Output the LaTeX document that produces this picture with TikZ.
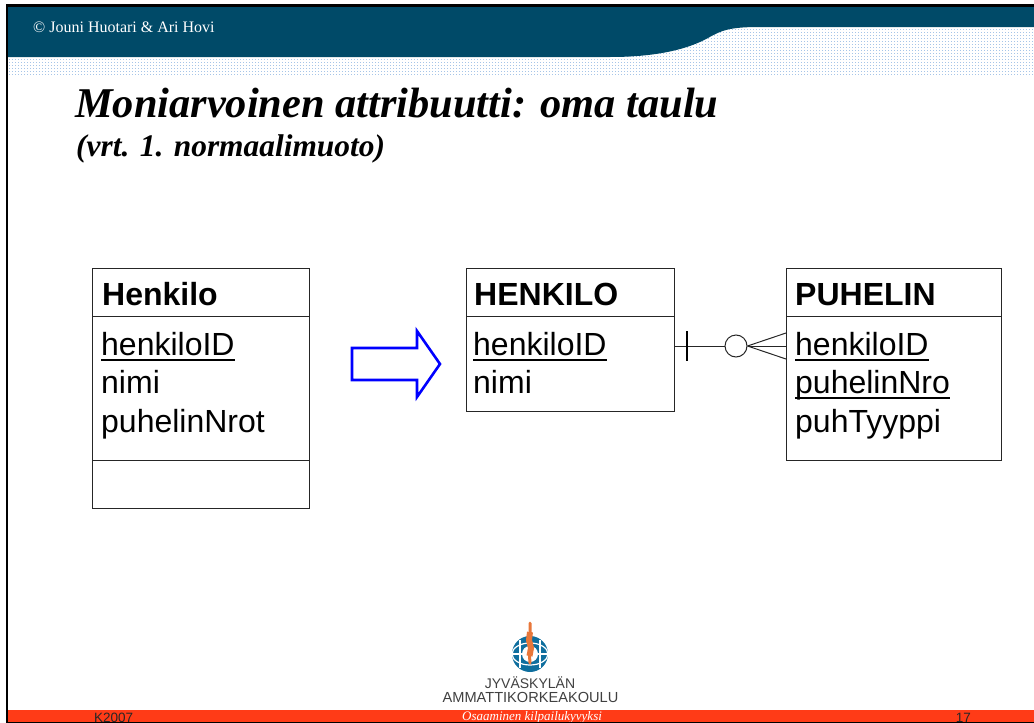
\documentclass[tikz,border=0pt]{standalone}
\usepackage{fontspec}
\setmainfont{Liberation Serif}
\setsansfont{Liberation Sans}
\definecolor{headblue}{HTML}{004A68}
\definecolor{dotblue}{HTML}{A6C5E8}
\definecolor{barred}{HTML}{FF3B17}
\definecolor{globeblue}{HTML}{0E6E9E}
\definecolor{flameorange}{HTML}{E8773A}
\newlength\keywd
\newcommand{\keyattr}[1]{\settowidth{\keywd}{#1}\rlap{#1}\rule[-5.6pt]{\keywd}{1.7pt}}
\tikzset{
  entity/.style={draw=black!85, line width=1pt, minimum width=#1, inner sep=0pt, outer sep=0pt},
  attr/.style={anchor=base west, inner sep=0pt, font=\sffamily\fontsize{32}{38}\selectfont},
  attrhead/.style={attr, font=\sffamily\bfseries\fontsize{32}{38}\selectfont},
  relline/.style={draw=black!85, line width=1pt}
}

\begin{document}
\begin{tikzpicture}[x=1pt,y=-1pt]
  \useasboundingbox (0,0) rectangle (1034,723);
  % Dotted band and header
  \fill[dotblue] (8,27) rectangle (1034,75);
  \foreach \i in {0,...,342} {\draw[white,line width=1.3pt] (8+3*\i,27) -- (8+3*\i,75);}
  \foreach \i in {0,...,16} {\draw[white,line width=1.3pt] (8,28+3*\i) -- (1034,28+3*\i);}
  \fill[headblue] (8,7) -- (1034,7) -- (1034,27) -- (760,27) .. controls (730,27) and (722,30) .. (708,38)
    .. controls (690,48) and (660,57) .. (610,57) -- (8,57) -- cycle;
  % Bottom bar
  \fill[barred] (8,710) rectangle (1034,722);
  \node[anchor=base west, inner sep=0pt, white, font=\fontsize{16}{18}\selectfont] (copyright) at (33,32) {© Jouni Huotari \& Ari Hovi};
  \node[anchor=base west, inner sep=0pt, font=\bfseries\itshape\fontsize{42.4}{50}\selectfont] (title) at (75,117) {Moniarvoinen attribuutti: oma taulu};
  \node[anchor=base west, inner sep=0pt, font=\bfseries\itshape\fontsize{31.4}{34}\selectfont] (subtitle) at (76,156) {(vrt. 1. normaalimuoto)};
  % Left table
  \node[entity=217pt, minimum height=48pt] (henkiloHead) at (200.5,292) {};
  \node[entity=217pt, minimum height=144pt] (henkiloBody) at (200.5,388) {};
  \node[entity=217pt, minimum height=48pt] (henkiloFoot) at (200.5,484) {};
  \node[attrhead] (t1) at (102,305) {Henkilo};
  \node[attr] (t2) at (101,355) {\keyattr{henkiloID}};
  \node[attr] (t3) at (101,393.5) {nimi};
  \node[attr] (t4) at (101,432.5) {puhelinNrot};
  % Arrow between the models
  \draw[blue,line width=2.6pt,line join=miter] (352,348) -- (417,348) -- (417,331) -- (440,364) -- (417,397) -- (417,380) -- (352,380) -- cycle;
  % Right tables
  \node[entity=208pt, minimum height=48pt] (henkilo) at (570,292) {};
  \node[entity=208pt, minimum height=95pt] (henkiloAttrs) at (570,363.5) {};
  \node[entity=215pt, minimum height=48pt] (puhelin) at (893.5,292) {};
  \node[entity=215pt, minimum height=144pt] (puhelinAttrs) at (893.5,388) {};
  \node[attrhead] (t5) at (474,305) {HENKILO};
  \node[attr] (t6) at (473,355) {\keyattr{henkiloID}};
  \node[attr] (t7) at (473,393.5) {nimi};
  \node[attrhead] (t8) at (795,305) {PUHELIN};
  \node[attr] (t9) at (795,355) {\keyattr{henkiloID}};
  \node[attr] (t10) at (795,393.5) {\keyattr{puhelinNro}};
  \node[attr] (t11) at (795,432.5) {puhTyyppi};
  % Relationship
  \node[circle, relline, minimum size=22pt, inner sep=0pt] (optional) at (736,346) {};
  \coordinate (bar) at (687,346);
  \draw[relline] (henkiloAttrs.east |- optional) -- (optional);
  \draw[line width=2.2pt] (bar) ++(0,-15) -- ++(0,30);
  \draw[relline] (optional.east) -- (puhelinAttrs.west |- optional);
  \draw[relline] (optional.east) -- ([yshift=13pt]puhelinAttrs.west |- optional);
  \draw[relline] (optional.east) -- ([yshift=-13pt]puhelinAttrs.west |- optional);
  % Logo
  \fill[globeblue] (530,654) circle (18);
  \draw[white,line width=1.2pt] (512,654) -- (548,654) (520,640) -- (520,668) (540,640) -- (540,668);
  \draw[white,line width=1.2pt] (530,654) ellipse (18 and 11);
  \fill[white] (530,654) circle (8);
  \draw[flameorange,line width=6pt,line join=round] (530,632) -- (529,640) -- (531,648) -- (529.5,656);
  \draw[flameorange,line width=3pt,line cap=round] (530,623) -- (530,632) (529.5,656) -- (530,663);
  \node[anchor=base, inner sep=0pt, black!75, font=\sffamily\fontsize{14}{16}\selectfont] (logo1) at (530,688) {JYVÄSKYLÄN};
  \node[anchor=base, inner sep=0pt, black!75, font=\sffamily\fontsize{14.6}{17}\selectfont] (logo2) at (530.5,702) {AMMATTIKORKEAKOULU};
  % Footer texts
  \node[anchor=base west, inner sep=0pt, black!85, font=\sffamily\fontsize{13.5}{16}\selectfont] (year) at (94,722) {K2007};
  \node[anchor=base west, inner sep=0pt, white, font=\itshape\fontsize{13}{15}\selectfont] (motto) at (462,720) {Osaaminen kilpailukyvyksi};
  \node[anchor=base east, inner sep=0pt, black!85, font=\sffamily\fontsize{13.5}{16}\selectfont] (page) at (971,722) {17};
  % Frame
  \fill[black] (6,4) rectangle (1034,7);
  \fill[black] (6,4) rectangle (8,723);
  \fill[black] (6,721.5) rectangle (1034,723);
\end{tikzpicture}
\end{document}
